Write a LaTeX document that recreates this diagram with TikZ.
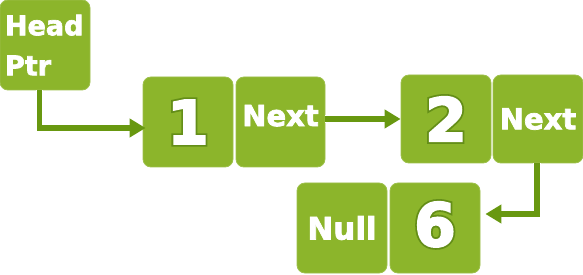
\documentclass[tikz,border=0pt]{standalone}
\usepackage{fontspec}
\setmainfont{DejaVu Sans}
% heavier faces for the cell labels and the digits
\newfontfamily\cellfont{DejaVu Sans Bold}[FakeBold=2.5]
\newfontfamily\digitfont{DejaVu Sans Bold}[FakeBold=3]
\newfontfamily\rimfont{DejaVu Sans Bold}[FakeBold=9]
\usetikzlibrary{arrows.meta}

\definecolor{cellgreen}{RGB}{140,181,43}
\definecolor{linkgreen}{RGB}{104,152,16}
\definecolor{rimgreen}{RGB}{100,142,24}

% white digit over a wider dark green copy, both centred on the same point
\newcommand\rimmed[1]{%
  \hbox to 0pt{\hss{\rimfont\textcolor{rimgreen}{#1}}\hss}%
  \hbox to 0pt{\hss#1\hss}}

\tikzset{
  cell/.style={fill=cellgreen, draw=cellgreen!85!white, line width=0.8pt,
    rounded corners=8pt, minimum width=90pt, minimum height=90pt,
    inner sep=0pt, text=white, font=\cellfont\fontsize{27}{40}\selectfont},
  nextcell/.style={cell, font=\cellfont\fontsize{29}{29}\selectfont},
  digit/.style={cell, font=\digitfont\fontsize{60}{60}\selectfont},
  link/.style={draw=linkgreen, line width=5.5pt,
    -{Triangle[length=16pt,width=18pt]},
    preaction={draw=white, line width=7.5pt, -, shorten >=15pt}}
}

\begin{document}
\begin{tikzpicture}[x=1pt,y=-1pt]
  \useasboundingbox (0,0) rectangle (583,275);

  % list head pointer
  \node[cell, text width=80pt, align=left] (head) at (45,45) {Head\\Ptr};

  % first node
  \node[digit] (one) at (188,122) {\rimmed{1}};
  \node[nextcell, minimum width=89pt, text depth=13pt] (next1) at (280.5,122) {Next};

  % second node
  \node[digit, minimum height=88pt] (two) at (446,119) {\rimmed{2}};
  \node[nextcell, minimum height=88pt] (next2) at (538,119) {Next};

  % last node
  \node[digit, text depth=8pt] (six) at (435,228) {\rimmed{6}};
  \node[cell, font=\cellfont\fontsize{31}{31}\selectfont] (null) at (342,228) {Null};

  % pointers
  \draw[link] ([xshift=-5.5pt]head.south) |- ([yshift=-6pt,xshift=3pt]one.west);
  \draw[link] (next1.east |- two.west) -- (two.west);
  \draw[link] ([xshift=-1pt]next2.south) |- ([yshift=14pt,xshift=5pt]six.east);
\end{tikzpicture}
\end{document}
